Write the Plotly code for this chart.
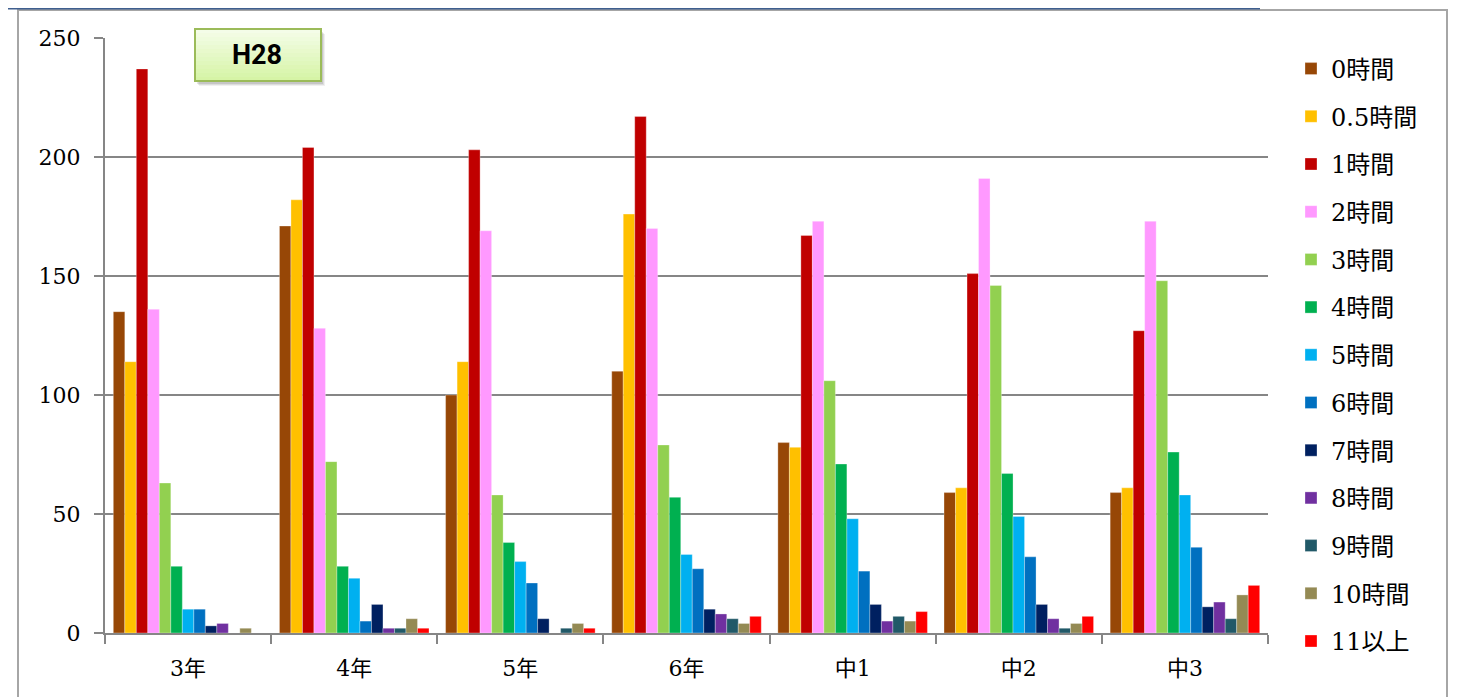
import plotly.graph_objects as go

categories = ["3年", "4年", "5年", "6年", "中1", "中2", "中3"]
series_names = ["0時間", "0.5時間", "1時間", "2時間", "3時間", "4時間", "5時間",
                "6時間", "7時間", "8時間", "9時間", "10時間", "11以上"]
colors = ["#974706", "#FFC000", "#C00000", "#FF99FF", "#92D050", "#00B050", "#00B0F0",
          "#0070C0", "#002060", "#7030A0", "#215968", "#948A54", "#FF0000"]

h0 = [135, 171, 100, 110, 80, 59, 59]
h05 = [114, 182, 114, 176, 78, 61, 61]
h1 = [237, 204, 203, 217, 167, 151, 127]
h2 = [136, 128, 169, 170, 173, 191, 173]
h3 = [63, 72, 58, 79, 106, 146, 148]
h4 = [28, 28, 38, 57, 71, 67, 76]
h5 = [10, 23, 30, 33, 48, 49, 58]
h6 = [10, 5, 21, 27, 26, 32, 36]
h7 = [3, 12, 6, 10, 12, 12, 11]
h8 = [4, 2, 0, 8, 5, 6, 13]
h9 = [0, 2, 2, 6, 7, 2, 6]
h10 = [2, 6, 4, 4, 5, 4, 16]
h11 = [0, 2, 2, 7, 9, 7, 20]
series_values = [h0, h05, h1, h2, h3, h4, h5, h6, h7, h8, h9, h10, h11]

y_ticks = [0, 50, 100, 150, 200, 250]
label_text = "H28"

serif = "DejaVu Serif, Noto Sans CJK JP, serif"

fig = go.Figure()
for name, vals, col in zip(series_names, series_values, colors):
    fig.add_trace(go.Bar(
        name=name, x=categories, y=vals,
        marker=dict(color=col, line=dict(color="rgba(255,255,255,0.5)", width=0.6)),
        legendgroup=name,
    ))

# the page places the figure 8px from the window's top-left corner
OFF = 8
W, H = 1465 - OFF, 697 - OFF
L, R, T, B = 105 - OFF, 1268 - OFF, 38 - OFF, 633 - OFF


def px(x):
    return (x - OFF - L) / (R - L)


def py(y):
    return (B - (y - OFF)) / (B - T)


shapes = [
    # outer frame
    dict(type="rect", xref="paper", yref="paper", x0=px(18), x1=px(1447), y0=py(10), y1=py(720),
         line=dict(color="#A6A6A6", width=2), fillcolor="rgba(0,0,0,0)", layer="below"),
    # top blue line
    dict(type="line", xref="paper", yref="paper", x0=px(0), x1=px(1260), y0=py(8.5), y1=py(8.5),
         line=dict(color="#3F5F8F", width=2)),
]
# label shadow (soft)
for i, a in enumerate([0.06, 0.08, 0.10]):
    d = 4 - i
    shapes.append(dict(type="rect", xref="paper", yref="paper",
                       x0=px(195 + d), x1=px(321 + d), y0=py(29 + d + 1), y1=py(81 + d + 1),
                       line=dict(width=0), fillcolor="rgba(0,0,0,%.2f)" % a, layer="above"))
# label box with vertical gradient
top_c = (0xF4, 0xFD, 0xE8)
bot_c = (0xD6, 0xF4, 0xA6)
n = 13
y_top, y_bot = 29, 81
for i in range(n):
    t = i / (n - 1)
    c = tuple(round(top_c[k] + (bot_c[k] - top_c[k]) * t) for k in range(3))
    ya = y_top + (y_bot - y_top) * i / n
    yb = y_top + (y_bot - y_top) * (i + 1) / n
    shapes.append(dict(type="rect", xref="paper", yref="paper",
                       x0=px(195), x1=px(321), y0=py(yb + 0.3), y1=py(ya),
                       line=dict(width=0), fillcolor="rgb(%d,%d,%d)" % c, layer="above"))
shapes.append(dict(type="rect", xref="paper", yref="paper", x0=px(195), x1=px(321),
                   y0=py(81), y1=py(29), line=dict(color="#9BBB59", width=2),
                   fillcolor="rgba(0,0,0,0)", layer="above"))

fig.update_layout(
    width=W, height=H,
    margin=dict(l=L, r=W - R, t=T, b=H - B, autoexpand=False),
    paper_bgcolor="white", plot_bgcolor="white",
    barmode="group", bargap=0.1, bargroupgap=0,
    font=dict(family=serif, size=22, color="black"),
    shapes=shapes,
    annotations=[dict(text="<b>%s</b>" % label_text, xref="paper", yref="paper",
                      x=px(257), y=py(55), xanchor="center", yanchor="middle", showarrow=False,
                      font=dict(family="Roboto, Liberation Sans, sans-serif", size=27, color="black"))],
    legend=dict(x=px(1291), xanchor="left", y=py(46.5), yref="paper", yanchor="top",
                font=dict(family=serif, size=24, color="black"), maxheight=680,
                tracegroupgap=13.5, itemwidth=30, bgcolor="rgba(0,0,0,0)"),
    xaxis=dict(showline=True, linecolor="#868686", linewidth=2, ticks="outside",
               ticklen=9, tickwidth=2, tickcolor="#868686", tickson="boundaries",
               showgrid=False, tickfont=dict(family=serif, size=22), ticklabelstandoff=15),
    yaxis=dict(range=[0, 250], tickvals=y_ticks, showline=True, linecolor="#868686",
               linewidth=2, ticks="outside", ticklen=9, tickwidth=2, tickcolor="#868686",
               showgrid=True, gridcolor="#868686", gridwidth=2, zeroline=False,
               tickfont=dict(family=serif, size=22), ticklabelstandoff=9),
)

fig.write_html("out.html")
